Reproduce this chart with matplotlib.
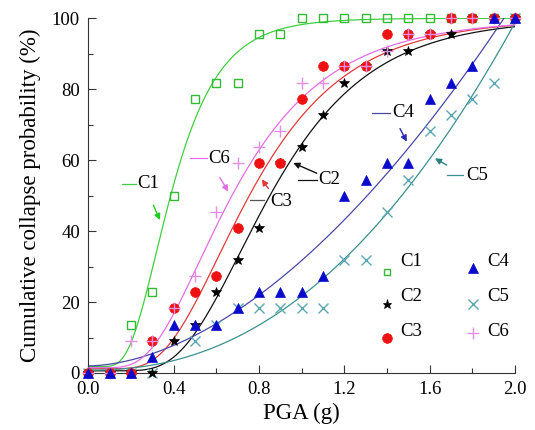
import math
import numpy as np
import matplotlib
matplotlib.use("Agg")
import matplotlib.pyplot as plt
from matplotlib.ticker import MultipleLocator, FormatStrFormatter

plt.rcParams['font.family'] = ['Liberation Serif', 'DejaVu Serif']
plt.rcParams['mathtext.fontset'] = 'stix'

# ---------------- data ----------------
names = ["C1", "C2", "C3", "C4", "C5", "C6"]

pga_c1 = [0.0, 0.1, 0.2, 0.3, 0.4, 0.5, 0.6, 0.7, 0.8, 0.9, 1.0, 1.1, 1.2, 1.3, 1.4, 1.5, 1.6, 1.7, 1.8, 1.9, 2.0]
prob_c1 = [0, 0, 13.6, 22.7, 50.0, 77.3, 81.8, 81.8, 95.5, 95.5, 100, 100, 100, 100, 100, 100, 100, 100, 100, 100, 100]

pga_c2 = [0.0, 0.1, 0.2, 0.3, 0.4, 0.5, 0.6, 0.7, 0.8, 0.9, 1.0, 1.1, 1.2, 1.3, 1.4, 1.5, 1.6, 1.7, 1.8, 1.9, 2.0]
prob_c2 = [0, 0, 0, 0, 9.1, 13.6, 22.7, 31.8, 40.9, 59.1, 63.6, 72.7, 81.8, 86.4, 90.9, 90.9, 95.5, 95.5, 100, 100, 100]

pga_c3 = [0.0, 0.1, 0.2, 0.3, 0.4, 0.5, 0.6, 0.7, 0.8, 0.9, 1.0, 1.1, 1.2, 1.3, 1.4, 1.5, 1.6, 1.7, 1.8, 1.9, 2.0]
prob_c3 = [0, 0, 0, 9.1, 18.2, 22.7, 27.3, 40.9, 59.1, 59.1, 77.3, 86.4, 86.4, 86.4, 95.5, 95.5, 95.5, 100, 100, 100, 100]

pga_c4 = [0.0, 0.1, 0.2, 0.3, 0.4, 0.5, 0.6, 0.7, 0.8, 0.9, 1.0, 1.1, 1.2, 1.3, 1.4, 1.5, 1.6, 1.7, 1.8, 1.9, 2.0]
prob_c4 = [0, 0, 0, 4.5, 13.6, 13.6, 13.6, 18.2, 22.7, 22.7, 22.7, 27.3, 50.0, 54.5, 59.1, 59.1, 77.3, 81.8, 86.4, 100, 100]

pga_c5 = [0.0, 0.1, 0.2, 0.3, 0.5, 0.6, 0.7, 0.8, 0.9, 1.0, 1.1, 1.2, 1.3, 1.4, 1.5, 1.6, 1.7, 1.8, 1.9, 2.0]
prob_c5 = [0, 0, 0, 0, 9.1, 13.6, 18.2, 18.2, 18.2, 18.2, 18.2, 31.8, 31.8, 45.5, 54.5, 68.2, 72.7, 77.3, 81.8, 100]

pga_c6 = [0.0, 0.1, 0.2, 0.3, 0.4, 0.5, 0.6, 0.7, 0.8, 0.9, 1.0, 1.1, 1.2, 1.3, 1.4, 1.5, 1.6, 1.7, 1.8, 1.9, 2.0]
prob_c6 = [0, 0, 9.1, 9.1, 18.2, 27.3, 45.5, 59.1, 63.6, 68.2, 81.8, 81.8, 86.4, 86.4, 90.9, 95.5, 95.5, 100, 100, 100, 100]

# fitted curves: lognormal CDF (median, beta) or power law (coef, exponent), plus baseline offset
fit_kind = ["lognormal", "lognormal", "lognormal", "power", "power", "lognormal"]
fit_p1 = [0.39, 0.854, 0.76, 29.7, 20.87, 0.68]
fit_p2 = [0.45, 0.43, 0.47, 1.79, 2.23, 0.52]
fit_offset = [1.8, 0.6, 1.2, 2.0, 0.8, 1.5]

x_ticks = [0.0, 0.4, 0.8, 1.2, 1.6, 2.0]
y_ticks = [0, 20, 40, 60, 80, 100]

# ---------------- styles ----------------
line_colors = ["#3fcf3f", "#111111", "#e23a3a", "#4848a8", "#3a9090", "#e46ee4"]
mk = ["s", "*", "o", "^", "x", "+"]
mk_size = [5.5, 7, 7, 7, 7, 8.5]
mk_face = ["none", "#000000", "#ee1111", "#0a0acc", "#5aa8b4", "#e58ee5"]
mk_edge = ["#33bb33", "#000000", "#ee1111", "#0a0acc", "#5aa8b4", "#e58ee5"]
mk_ew = [1.0, 0.5, 0.5, 0.5, 1.0, 1.0]

xs = [pga_c1, pga_c2, pga_c3, pga_c4, pga_c5, pga_c6]
ys = [prob_c1, prob_c2, prob_c3, prob_c4, prob_c5, prob_c6]

erf_v = np.vectorize(math.erf)


def fitted(x, kind, p1, p2, c):
    if kind == "lognormal":
        z = np.log(x / p1) / p2
        return c + (100 - c) * 0.5 * (1 + erf_v(z / math.sqrt(2)))
    return c + p1 * x ** p2


fig = plt.figure(figsize=(5.35, 4.30), dpi=100)
ax = fig.add_axes([0.165, 0.1326, 0.7976, 0.825])

xg = np.linspace(1e-4, 2.0, 500)
for i in range(6):
    yg = fitted(xg, fit_kind[i], fit_p1[i], fit_p2[i], fit_offset[i])
    ax.plot(xg, yg, color=line_colors[i], lw=0.9, zorder=2)

for i in [0, 4, 1, 2, 5, 3]:
    ax.plot(xs[i], ys[i], linestyle="none", marker=mk[i], markersize=mk_size[i],
            markerfacecolor=mk_face[i], markeredgecolor=mk_edge[i],
            markeredgewidth=mk_ew[i], clip_on=False, zorder=3)

ax.set_xlim(0, 2.0)
ax.set_ylim(0, 100)
ax.spines['top'].set_visible(False)
ax.spines['right'].set_visible(False)
ax.spines['left'].set_color('#333333')
ax.spines['bottom'].set_color('#333333')
ax.set_xticks(x_ticks)
ax.set_yticks(y_ticks)
ax.xaxis.set_major_formatter(FormatStrFormatter('%.1f'))
ax.xaxis.set_minor_locator(MultipleLocator(0.2))
ax.yaxis.set_minor_locator(MultipleLocator(10))
ax.tick_params(which='major', direction='in', length=6, width=0.8, labelsize=13.5, pad=6, color='#333333')
ax.tick_params(which='minor', direction='in', length=3.5, width=0.8, color='#333333')
ax.set_xlabel("PGA (g)", fontsize=16.5, labelpad=3)
ax.set_ylabel("Cumulative collapse probability (%)", fontsize=16.5, labelpad=8)

# ---------------- curve labels with arrows ----------------
lab_text_pos = [(0.229, 53.5), (1.077, 54.4), (0.852, 48.3), (1.424, 73.3), (1.771, 55.8), (0.562, 60.6)]
lab_dash = [((0.158, 0.224), 53.3), ((0.985, 1.07), 54.3), ((0.758, 0.824), 48.7),
            ((1.329, 1.414), 73.3), ((1.68, 1.758), 55.8), ((0.477, 0.555), 60.5)]
dash_colors = ["#3fcf3f", "#111111", "#555555", "#4848a8", "#3a9090", "#e46ee4"]
arrow_tail = [(0.305, 47.3), (1.071, 56.3), (0.844, 52.0), (1.461, 68.9), (1.68, 58.6), (0.617, 55.1)]
arrow_head = [(0.336, 43.1), (0.961, 59.2), (0.813, 54.6), (1.493, 65.2), (1.625, 60.5), (0.656, 51.1)]
arrow_colors = ["#22cc22", "#111111", "#e23a3a", "#2a2ab0", "#2a8080", "#e46ee4"]

for i in range(6):
    (x0, x1), yd = lab_dash[i]
    ax.plot([x0, x1], [yd, yd], color=dash_colors[i], lw=0.9, zorder=4)
    ax.text(lab_text_pos[i][0], lab_text_pos[i][1], names[i], fontsize=13.5,
            ha='left', va='center', zorder=5)
    ax.annotate("", xy=arrow_head[i], xytext=arrow_tail[i],
                arrowprops=dict(arrowstyle='-|>', color=arrow_colors[i], lw=1.0,
                                mutation_scale=9, shrinkA=0, shrinkB=0), zorder=5)

# ---------------- legend (two columns) ----------------
leg_marker_xy = [(1.402, 28.5), (1.402, 19.4), (1.402, 9.8), (1.802, 29.5), (1.802, 19.4), (1.802, 11.2)]
leg_text_xy = [(1.461, 31.4), (1.461, 21.5), (1.461, 11.6), (1.868, 31.4), (1.868, 21.5), (1.868, 11.6)]
leg_size = [5, 6.5, 7, 7, 7, 8.5]
for i in range(6):
    ax.plot([leg_marker_xy[i][0]], [leg_marker_xy[i][1]], linestyle="none", marker=mk[i],
            markersize=leg_size[i], markerfacecolor=mk_face[i], markeredgecolor=mk_edge[i],
            markeredgewidth=mk_ew[i], zorder=5)
    ax.text(leg_text_xy[i][0], leg_text_xy[i][1], names[i], fontsize=13.5,
            ha='left', va='center', zorder=5)

fig.savefig("out.png", dpi=100)
